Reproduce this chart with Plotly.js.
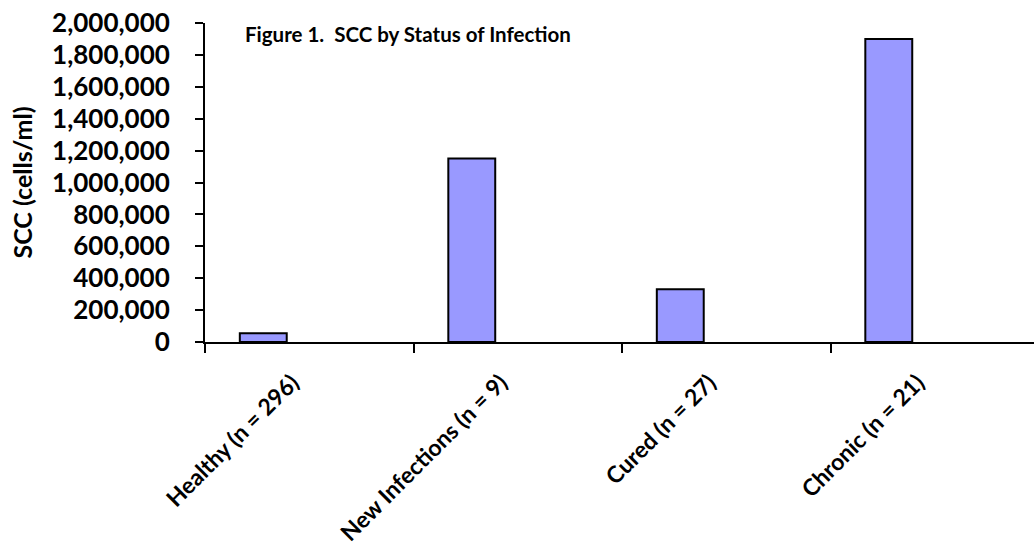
<!DOCTYPE html>
<html>
<head>
<meta charset="utf-8">
<script src="https://cdn.plot.ly/plotly-3.0.1.min.js"></script>
<style>
html,body{margin:0;padding:0;background:#fff;}
#chart{width:1034px;height:556px;}
</style>
</head>
<body>
<div id="chart"></div>
<script>
const categories = ["Healthy (n = 296)", "New Infections (n = 9)", "Cured (n = 27)", "Chronic (n = 21)"];
const sccValues = [55000, 1150000, 330000, 1900000];
const yTickValues = [0, 200000, 400000, 600000, 800000, 1000000, 1200000, 1400000, 1600000, 1800000, 2000000];
const yTickLabels = ["0", "200,000", "400,000", "600,000", "800,000", "1,000,000", "1,200,000", "1,400,000", "1,600,000", "1,800,000", "2,000,000"];

const FONT = "Lato, 'Open Sans', sans-serif";

const trace = {
  type: "bar",
  x: categories,
  y: sccValues,
  width: 0.225,
  offset: -0.333,
  marker: {color: "#9999FF", line: {color: "#000000", width: 2}},
  hoverinfo: "x+y"
};

const layout = {
  width: 1034,
  height: 556,
  paper_bgcolor: "#ffffff",
  plot_bgcolor: "#ffffff",
  margin: {l: 205, r: 0, t: 23, b: 214},
  showlegend: false,
  bargap: 0,
  title: {
    text: "<b>Figure 1.  SCC by Status of Infection</b>",
    font: {family: FONT, size: 20.5, color: "#000"},
    x: 245 / 1034, xanchor: "left", xref: "container",
    y: 1 - 35 / 556, yanchor: "middle", yref: "container"
  },
  xaxis: {
    type: "category",
    range: [-0.5, 3.476],
    tickson: "boundaries",
    ticks: "outside",
    ticklen: 9,
    tickwidth: 2,
    tickcolor: "#000",
    ticklabelstandoff: 16,
    ticklabelshift: -17,
    showline: true,
    linecolor: "#000",
    linewidth: 2,
    showgrid: false,
    zeroline: false,
    tickangle: -45,
    tickfont: {family: FONT, size: 23, color: "#000", weight: "bold"},
    fixedrange: true
  },
  yaxis: {
    range: [0, 2000000],
    tickvals: yTickValues,
    ticktext: yTickLabels,
    ticks: "outside",
    ticklen: 8,
    tickwidth: 2,
    tickcolor: "#000",
    ticklabelstandoff: 20,
    showline: true,
    linecolor: "#000",
    linewidth: 2,
    showgrid: false,
    zeroline: false,
    tickfont: {family: FONT, size: 26, color: "#000", weight: "bold"},
    title: {text: "<b>SCC (cells/ml)</b>", font: {family: FONT, size: 25, color: "#000"}, standoff: 12},
    fixedrange: true
  }
};

Plotly.newPlot("chart", [trace], layout, {displayModeBar: false, staticPlot: true});
</script>
</body>
</html>
